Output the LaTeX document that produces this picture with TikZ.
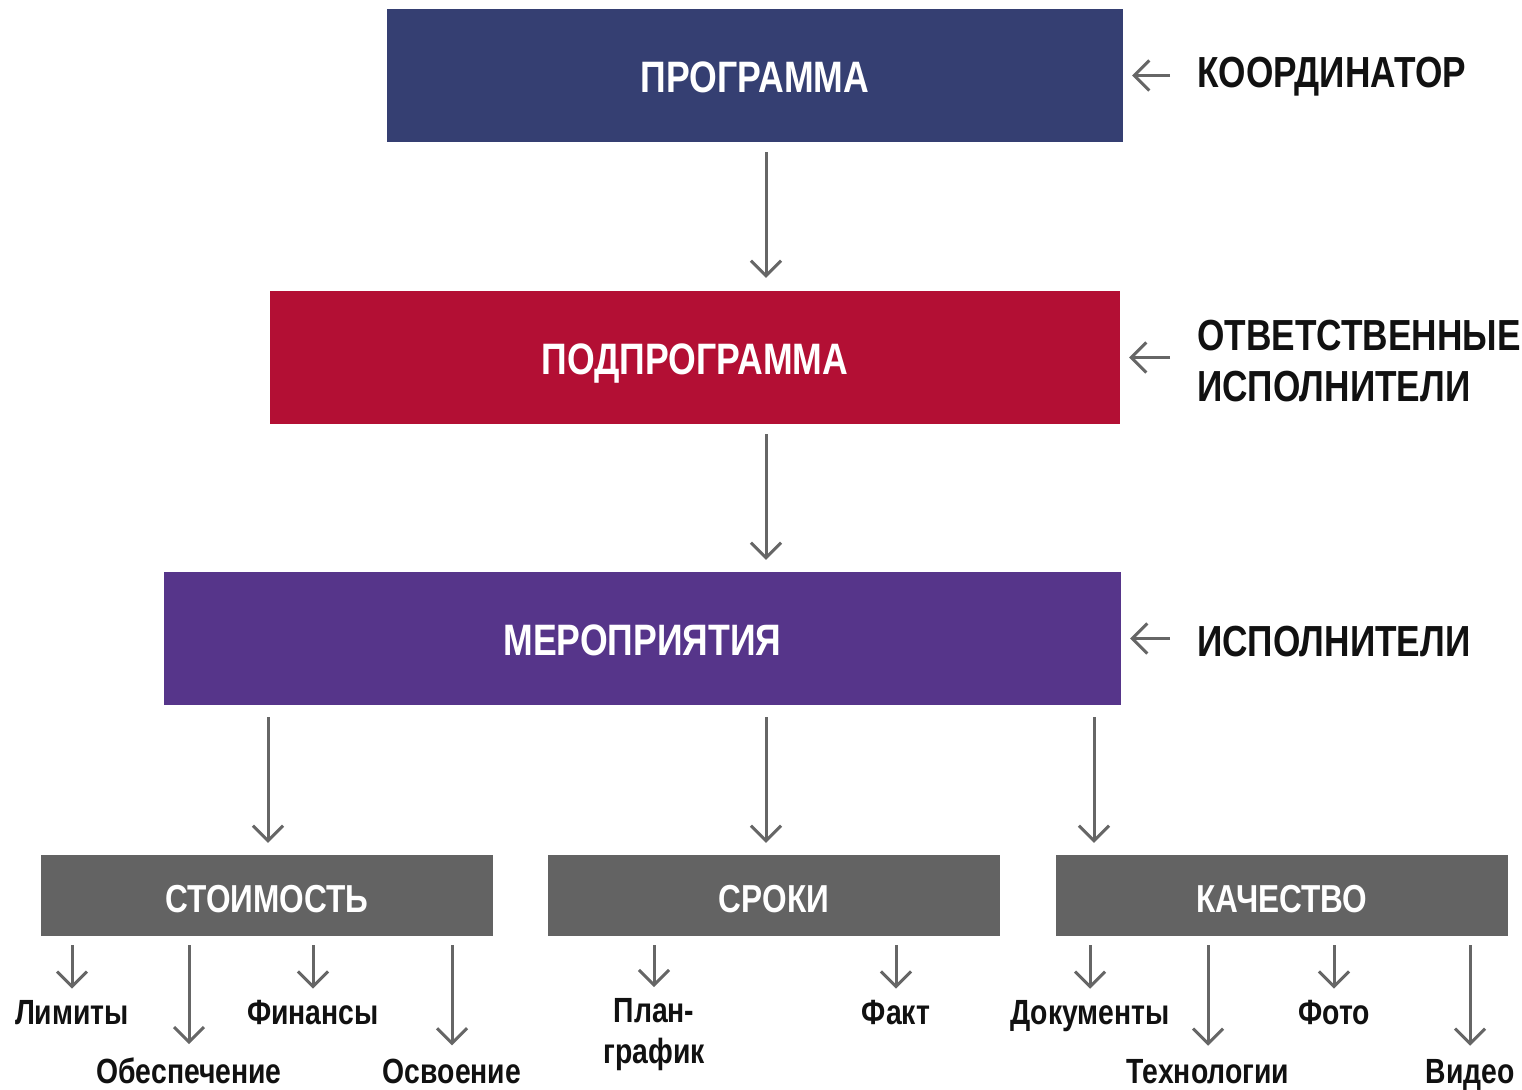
\documentclass[tikz,border=0pt]{standalone}
\usepackage{fontspec}
\setmainfont{Liberation Sans}[FakeStretch=0.81]
\usetikzlibrary{arrows.meta}
\definecolor{navy}{RGB}{53,63,114}
\definecolor{crimson}{RGB}{179,15,52}
\definecolor{violet}{RGB}{86,53,138}
\definecolor{boxgray}{RGB}{99,99,99}
\definecolor{arrgray}{RGB}{102,102,102}
\definecolor{ink}{RGB}{17,17,17}
\begin{document}
\begin{tikzpicture}[x=1pt,y=-1pt,
  box/.style={draw=none, inner sep=0pt, text=white, font=\fontsize{44}{50}\selectfont\bfseries, text height=34pt, text depth=0pt},
  bigbox/.style={box, minimum height=133pt},
  smallbox/.style={box, minimum height=81pt, minimum width=452pt, fill=boxgray, font=\fontsize{39}{46}\selectfont\bfseries, text height=34pt},
  lbl/.style={inner sep=0pt, text=ink, font=\fontsize{43.5}{51}\selectfont\bfseries, align=left},
  sub/.style={inner sep=0pt, text=ink, font=\fontsize{35}{41}\selectfont\bfseries, align=center},
  arr/.style={draw=arrgray, line width=3pt, -{Straight Barb[length=15pt,width=30pt]}}
]
\useasboundingbox (0,0) rectangle (1522,1089);

% main boxes
\node[bigbox, fill=navy, minimum width=736pt] (p) at (755,75.5) {ПРОГРАММА};
\node[bigbox, fill=crimson, minimum width=850pt] (s) at (695,357.5) {ПОДПРОГРАММА};
\node[bigbox, fill=violet, minimum width=957pt] (m) at (642.5,638.5) {МЕРОПРИЯТИЯ};

\node[smallbox] (c) at (267,895.5) {СТОИМОСТЬ};
\node[smallbox] (t) at (774,895.5) {СРОКИ};
\node[smallbox] (q) at (1282,895.5) {КАЧЕСТВО};

% right labels
\node[lbl, anchor=base west] (k) at (1197,88) {КООРДИНАТОР};
\node[lbl, anchor=west] (r) at (1197,360.75) {ОТВЕТСТВЕННЫЕ\\ИСПОЛНИТЕЛИ};
\node[lbl, anchor=base west] (e) at (1197,656) {ИСПОЛНИТЕЛИ};

\draw[arr, shorten <=27pt, shorten >=9pt] (k.west |- p.east) -- (p.east);
\draw[arr, shorten <=27pt, shorten >=9pt] (r.west |- s.east) -- (s.east);
\draw[arr, shorten <=27pt, shorten >=9pt] (e.west |- m.east) -- (m.east);

% vertical arrows
\coordinate (cx) at (766,0);
\coordinate (a1) at (268,0);
\coordinate (a3) at (1094,0);
\draw[arr, shorten <=10pt, shorten >=13pt] (p.south -| cx) -- (s.north -| cx);
\draw[arr, shorten <=10pt, shorten >=12pt] (s.south -| cx) -- (m.north -| cx);
\draw[arr, shorten <=12pt, shorten >=12pt] (m.south -| a1) -- (c.north -| a1);
\draw[arr, shorten <=12pt, shorten >=12pt] (m.south -| cx) -- (t.north -| cx);
\draw[arr, shorten <=12pt, shorten >=12pt] (m.south -| a3) -- (q.north -| a3);

% bottom labels
\node[sub, anchor=base] (l1) at (72,1024) {Лимиты};
\node[sub, anchor=base] (l2) at (189,1083) {Обеспечение};
\node[sub, anchor=base] (l3) at (313,1024) {Финансы};
\node[sub, anchor=base] (l4) at (452,1083) {Освоение};
\node[sub, anchor=north] (l5) at (654,998) {План-\\график};
\node[sub, anchor=base] (l6) at (896,1024) {Факт};
\node[sub, anchor=base] (l7) at (1090,1024) {Документы};
\node[sub, anchor=base] (l8) at (1208,1083) {Технологии};
\node[sub, anchor=base] (l9) at (1334,1024) {Фото};
\node[sub, anchor=base] (l10) at (1470,1083) {Видео};

\foreach \b/\l in {c/l1, c/l3, t/l5, t/l6, q/l7, q/l9}
  \draw[arr, shorten <=9pt, shorten >=11pt] (\b.south -| \l.north) -- (\l.north);
\foreach \b/\l in {c/l2, c/l4, q/l8, q/l10}
  \draw[arr, shorten <=9pt, shorten >=13pt] (\b.south -| \l.north) -- (\l.north);
\end{tikzpicture}
\end{document}
